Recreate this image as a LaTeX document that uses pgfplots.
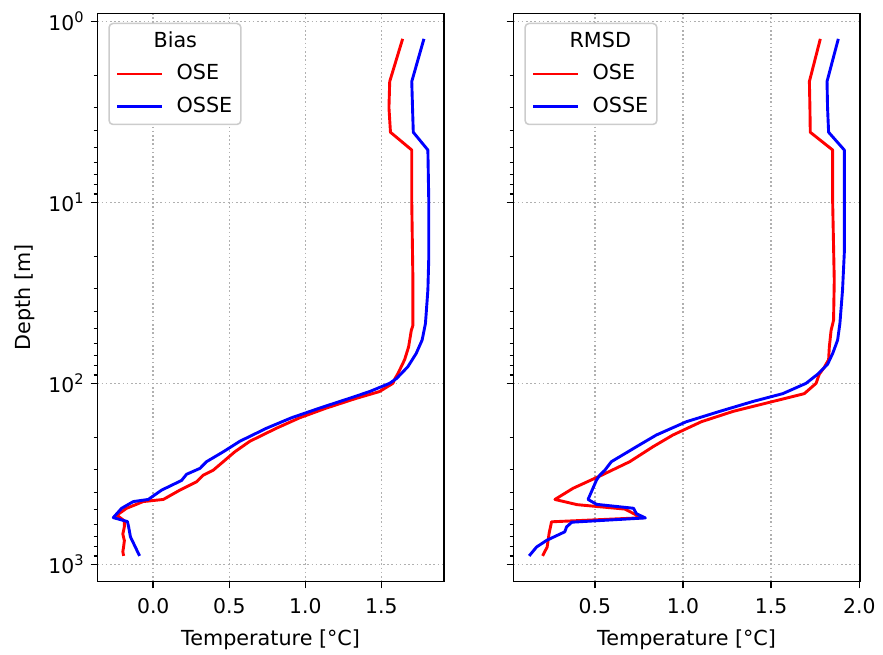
\documentclass[border=0pt]{standalone}
\usepackage{pgfplots}
\pgfplotsset{compat=1.18}
\usepackage{fontspec}
\setmainfont{DejaVu Sans}
\newcommand\supx[1]{\raisebox{0.40em}{\fontsize{7.3}{8}\selectfont #1}}

\pgfplotstableread[row sep=\\]{
x y\\
1.64 1.25\\ 1.555 2.15\\ 1.55 3.0\\ 1.56 4.1\\ 1.70 5.14\\ 1.70 10\\ 1.707 25\\ 1.707 48\\
1.697 51\\ 1.679 63\\ 1.653 74\\ 1.61 88\\ 1.59 94\\ 1.576 100\\ 1.488 111\\ 1.335 121\\
1.138 137\\ 0.963 155\\ 0.81 177\\ 0.635 209\\ 0.536 239\\ 0.46 271\\ 0.394 302\\ 0.328 322\\
0.285 350\\ 0.175 389\\ 0.066 438\\ -0.066 450\\ -0.175 490\\ -0.24 535\\ -0.19 575\\
-0.19 620\\ -0.20 680\\ -0.19 740\\ -0.195 800\\ -0.20 850\\ -0.195 898\\
}\biasose
\pgfplotstableread[row sep=\\]{
x y\\
1.78 1.25\\ 1.70 2.15\\ 1.705 3.0\\ 1.71 4.1\\ 1.806 5.14\\ 1.812 10\\ 1.812 20\\ 1.806 30.5\\
1.79 46.7\\ 1.768 57.7\\ 1.729 68.4\\ 1.674 81\\ 1.60 94\\ 1.554 100\\ 1.423 111\\ 1.29 121\\
1.094 137\\ 0.909 155\\ 0.745 177\\ 0.569 209\\ 0.46 239\\ 0.35 271\\ 0.307 295\\ 0.219 318\\
0.186 344\\ 0.055 389\\ -0.033 438\\ -0.131 450\\ -0.208 490\\ -0.263 552\\ -0.17 580\\
-0.162 621\\ -0.15 705\\ -0.118 802\\ -0.09 898\\
}\biasosse
\pgfplotstableread[row sep=\\]{
x y\\
1.779 1.25\\ 1.717 2.15\\ 1.72 3.0\\ 1.722 4.1\\ 1.849 5.14\\ 1.849 10\\ 1.858 27\\ 1.854 44.8\\
1.84 51\\ 1.83 63\\ 1.826 74\\ 1.80 82\\ 1.773 89\\ 1.755 100\\ 1.688 114\\ 1.509 126\\
1.283 143\\ 1.104 163\\ 0.943 193\\ 0.83 224\\ 0.698 271\\ 0.538 322\\ 0.377 380\\ 0.274 438\\
0.40 468\\ 0.67 495\\ 0.70 512\\ 0.745 540\\ 0.78 552\\ 0.255 582\\ 0.241 674\\ 0.23 802\\
0.204 898\\
}\rmsdose
\pgfplotstableread[row sep=\\]{
x y\\
1.881 1.25\\ 1.817 2.15\\ 1.82 3.0\\ 1.826 4.1\\ 1.915 5.14\\ 1.915 19\\ 1.905 30.5\\ 1.89 46.7\\
1.877 57.7\\ 1.849 68.4\\ 1.82 78.5\\ 1.764 89\\ 1.698 100\\ 1.566 114\\ 1.396 126\\ 1.207 143\\
1.019 163\\ 0.849 193\\ 0.736 224\\ 0.594 271\\ 0.557 302\\ 0.528 322\\ 0.51 342\\ 0.462 438\\
0.51 466\\ 0.72 490\\ 0.736 525\\ 0.787 554\\ 0.37 585\\ 0.34 621\\ 0.33 661\\ 0.227 737\\
0.17 802\\ 0.128 898\\
}\rmsdosse

\pgfplotsset{
  every axis/.append style={
    scale only axis, width=173.35bp, height=284.2bp,
    grid=major,
    major grid style={black!31, line width=0.77bp, dash pattern=on 0.8bp off 1.3bp},
    tick pos=left, tick align=outside,
    major tick length=3.35bp, minor tick length=1.9bp,
    major tick style={black, line width=0.77bp},
    minor tick style={black, line width=0.58bp},
    axis line style={line width=0.77bp},
    ticklabel style={font=\fontsize{10.2}{12}\selectfont},
    xticklabel style={yshift=-1.5bp},
    label style={font=\fontsize{10.4}{12}\selectfont},
    xlabel style={yshift=-1bp},
    legend cell align=left,
    legend style={at={(axis description cs:0,1)}, anchor=north west,
      xshift=5.5bp, yshift=-4.7bp, draw=black!20, line width=0.77bp,
      rounded corners=2bp, fill=white,
      font=\fontsize{10.4}{12}\selectfont,
      inner xsep=3.3bp, inner ysep=3bp,
      nodes={inner sep=1bp, text height=7.8bp, text depth=2.2bp},
      row sep=4.25bp, column sep=0bp},
  },
  every axis plot/.append style={line width=1.45bp, line join=round},
  legend image code/.code={\draw[#1, line width=1.45bp] (0bp,0bp) -- (22.5bp,0bp); \path (28bp,0bp);},
}

\begin{document}
\begin{tikzpicture}
\useasboundingbox (0,0) rectangle (441.5bp,327.5bp);
\begin{axis}[at={(48.65bp,36.65bp)}, anchor=south west,
  ymode=log, y dir=reverse, ymin=0.903, ymax=1247,
  ytick={1,10,100,1000},
  minor ytick={2,3,4,5,6,7,8,9,20,30,40,50,60,70,80,90,200,300,400,500,600,700,800,900},
  yticklabels={10\supx{0},10\supx{1},10\supx{2},10\supx{3}},
  xmin=-0.368, xmax=1.912, xtick={0,0.5,1,1.5},
  xticklabels={0.0,0.5,1.0,1.5},
  xlabel={Temperature [°C]},
  ylabel={Depth [m]}]
\addlegendimage{empty legend}\addlegendentry{\hspace*{-11.5bp}\rule{0pt}{11.1bp}Bias}
\addplot[red] table[x=x,y=y] {\biasose}; \addlegendentry{OSE}
\addplot[blue] table[x=x,y=y] {\biasosse}; \addlegendentry{OSSE}
\end{axis}
\begin{axis}[at={(256.65bp,36.65bp)}, anchor=south west,
  ymode=log, y dir=reverse, ymin=0.903, ymax=1247,
  ytick={1,10,100,1000},
  minor ytick={2,3,4,5,6,7,8,9,20,30,40,50,60,70,80,90,200,300,400,500,600,700,800,900},
  yticklabels={},
  xmin=0.038, xmax=2.004, xtick={0.5,1,1.5,2},
  xticklabels={0.5,1.0,1.5,2.0},
  xlabel={Temperature [°C]}]
\addlegendimage{empty legend}\addlegendentry{\hspace*{-11.5bp}\rule{0pt}{11.1bp}RMSD}
\addplot[red] table[x=x,y=y] {\rmsdose}; \addlegendentry{OSE}
\addplot[blue] table[x=x,y=y] {\rmsdosse}; \addlegendentry{OSSE}
\end{axis}
\end{tikzpicture}
\end{document}
